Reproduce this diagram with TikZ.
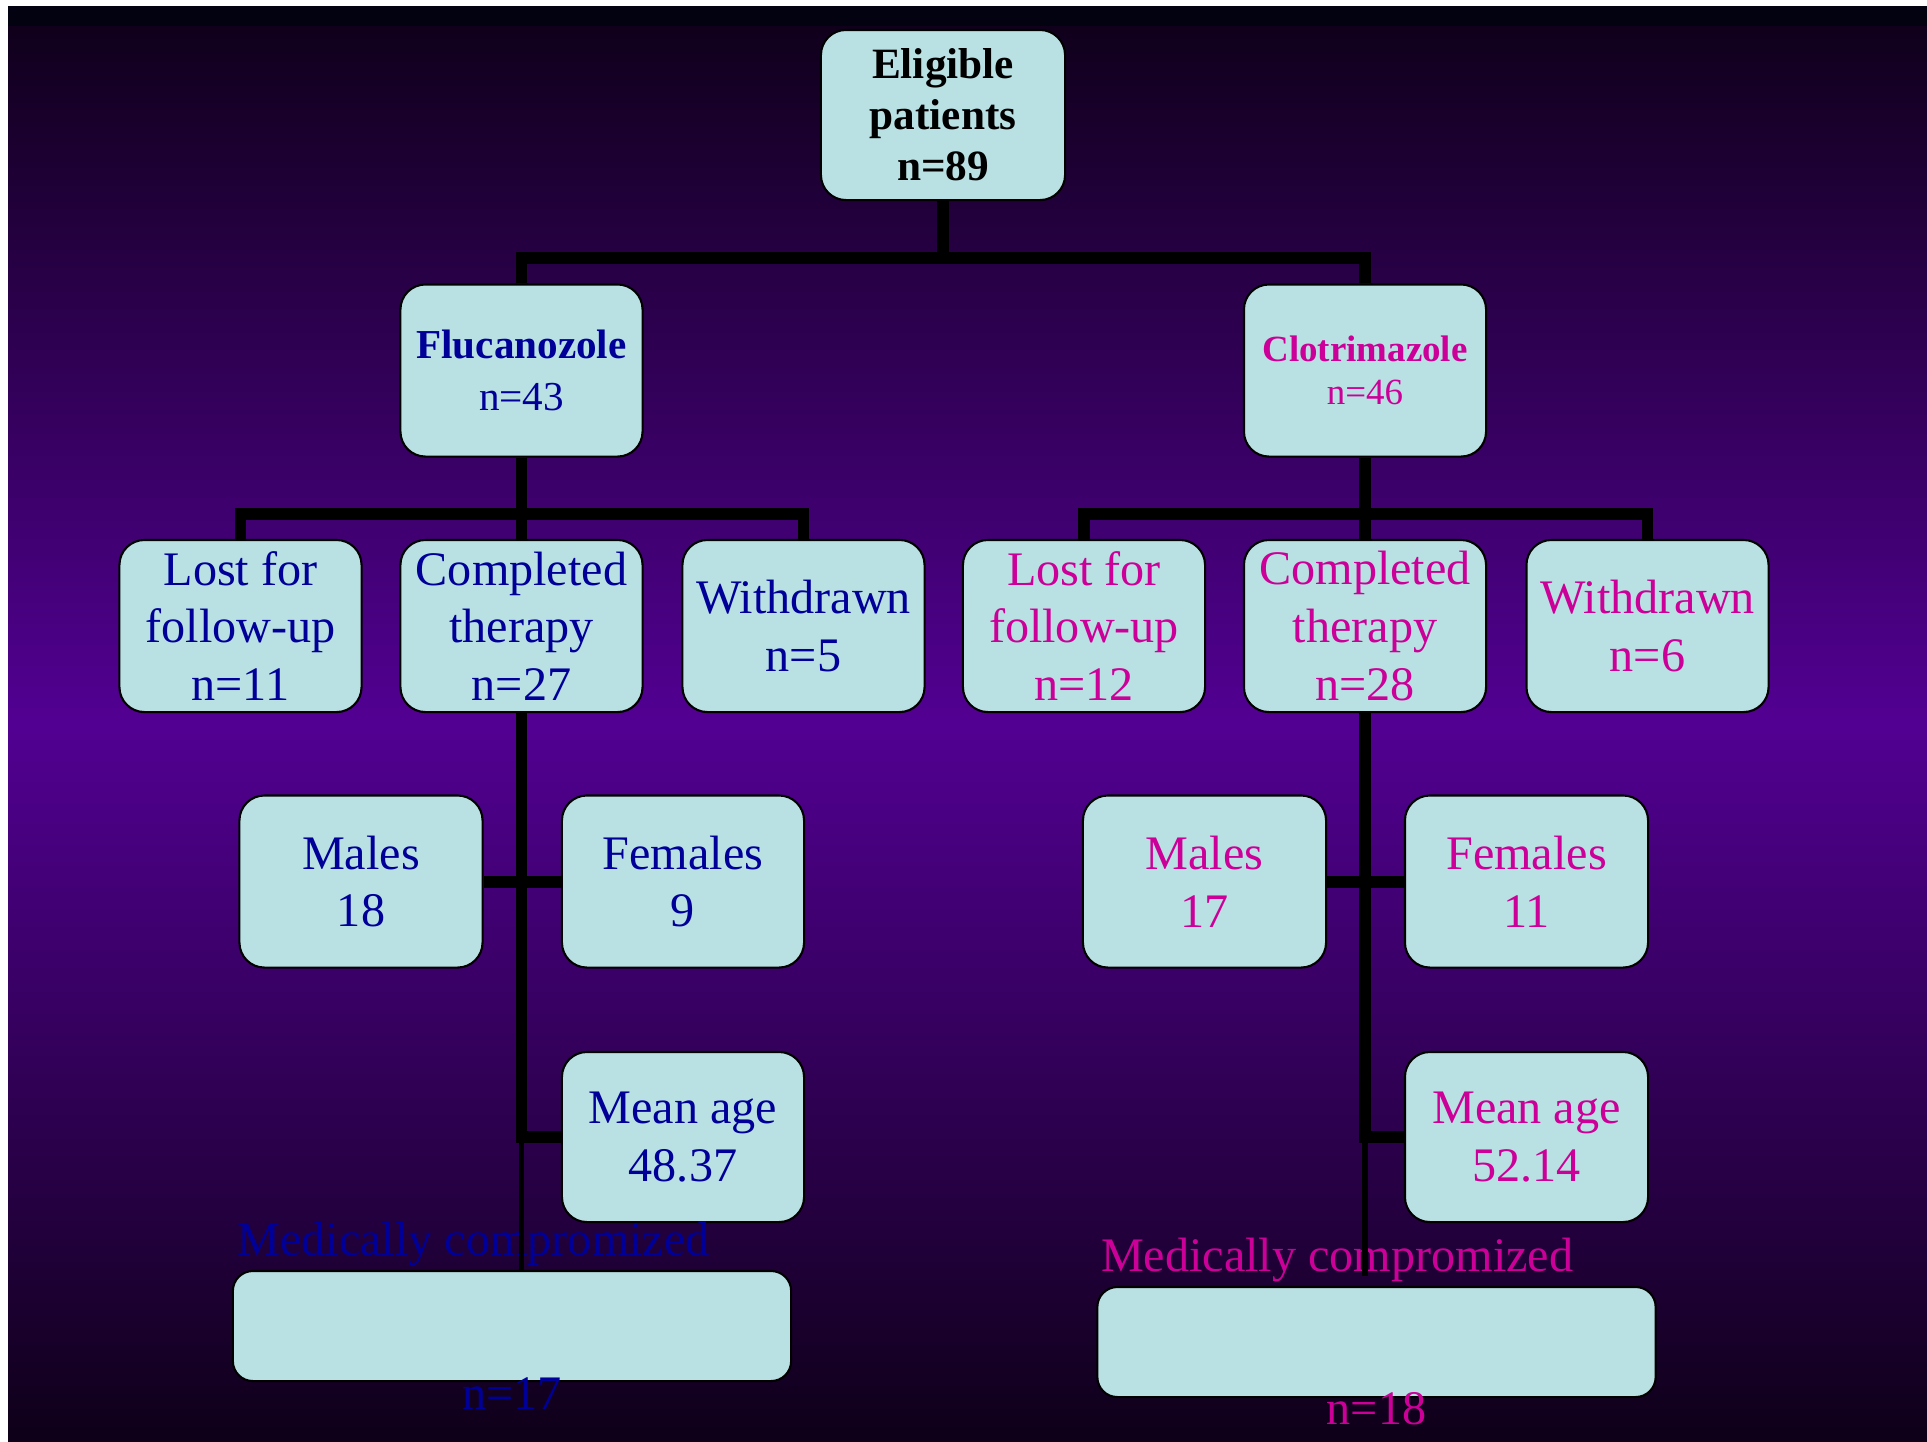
\documentclass[tikz,border=0pt]{standalone}
\usepackage{fontspec}
\setmainfont{Liberation Serif}
\definecolor{boxfill}{RGB}{185,224,227}
\definecolor{flublue}{RGB}{0,0,153}
\definecolor{clomag}{RGB}{204,0,153}
\definecolor{bgpurple}{RGB}{82,0,146}
\definecolor{bgdark}{RGB}{14,0,24}
\definecolor{bgnavy}{RGB}{3,2,16}
\begin{document}
\begin{tikzpicture}[x=0.01cm, y=-0.01cm,
	box/.style={draw=black, line width=0.6pt, fill=boxfill, rounded corners=0.25cm,
		minimum width=2.42cm, minimum height=1.72cm, inner sep=0pt, align=center,
		font=\fontsize{13.7}{16.4}\selectfont},
	flu/.style={text=flublue},
	clo/.style={text=clomag},
	medbox/.style={draw=black, line width=0.6pt, fill=boxfill, rounded corners=0.2cm,
		minimum width=5.58cm, minimum height=1.1cm, inner sep=0pt},
	medtext/.style={inner sep=0pt, font=\fontsize{13.7}{16.4}\selectfont},
	link/.style={line width=3.4pt},
	thinlink/.style={line width=1.7pt}]
	%background
	\useasboundingbox (0,0) rectangle (1927,1441);
	\fill[white] (0,0) rectangle (1927,1441);
	\shade[top color=bgdark, bottom color=bgdark, middle color=bgpurple] (8,6) rectangle (1927,1441);
	\fill[bgnavy] (8,6) rectangle (1927,26);
	
	%eligible
	\node[box, minimum width=2.44cm, minimum height=1.7cm, font=\fontsize{12.3}{14.5}\selectfont\bfseries] (elig) at (943,115) {Eligible\\patients\\n=89};
	
	%arms
	\node[box, flu, font=\fontsize{11.7}{14.8}\selectfont] (fluc) at (521.5,370.5) {\textbf{Flucanozole}\\n=43};
	\node[box, clo, font=\fontsize{10.5}{12.2}\selectfont] (clot) at (1365,370.5) {\textbf{Clotrimazole}\\n=46};
	
	%outcomes
	\node[box, flu] (lostF) at (240.5,626) {Lost for\\follow-up\\n=11};
	\node[box, flu] (compF) at (521.5,626) {Completed\\therapy\\n=27};
	\node[box, flu] (withF) at (803.5,626) {Withdrawn\\n=5};
	\node[box, clo] (lostC) at (1084,626) {Lost for\\follow-up\\n=12};
	\node[box, clo] (compC) at (1365,626) {Completed\\therapy\\n=28};
	\node[box, clo] (withC) at (1647.5,626) {Withdrawn\\n=6};
	
	%completed therapy
	\node[box, flu, minimum width=2.43cm] (malesF) at (361,881.5) {Males\\18};
	\node[box, flu] (femF) at (683,881.5) {Females\\9};
	\node[box, flu, minimum height=1.7cm] (meanF) at (683,1137) {Mean age\\48.37};
	\node[box, clo, minimum width=2.43cm] (malesC) at (1204.5,881.5) {Males\\17};
	\node[box, clo, minimum width=2.43cm] (femC) at (1526.5,881.5) {Females\\11};
	\node[box, clo, minimum width=2.43cm, minimum height=1.7cm] (meanC) at (1526.5,1137) {Mean age\\52.14};
	
	%medically compromized
	\node[medbox] (medF) at (512,1326) {};
	\node[medtext, text=flublue, anchor=base west] (medFtop) at ([xshift=0.05cm, yshift=0.14cm]medF.north west) {Medically compromized};
	\node[medtext, text=flublue, anchor=base] (medFn) at ([yshift=-0.27cm]medF.south) {n=17};
	\node[medbox] (medC) at (1376.5,1342) {};
	\node[medtext, text=clomag, anchor=base west] (medCtop) at ([xshift=0.04cm, yshift=0.14cm]medC.north west) {Medically compromized};
	\node[medtext, text=clomag, anchor=base] (medCn) at ([yshift=-0.26cm]medC.south) {n=18};
	
	%tree
	\draw[link] (elig.south) -- ++(0,57) -| (fluc.north);
	\draw[link] (elig.south) -- ++(0,57) -| (clot.north);
	\foreach \arm/\side in {fluc/F, clot/C}{
		\draw[link] (\arm.south) -- (comp\side.north);
		\draw[link] (\arm.south) -- ++(0,56) -| (lost\side.north);
		\draw[link] (\arm.south) -- ++(0,56) -| (with\side.north);
		\draw[link] (males\side.east) -- (fem\side.west);
		\draw[link] (comp\side.south) |- (mean\side.west);
	}
	\draw[thinlink] (meanF.west -| compF.south) -- (medF.north -| compF.south);
	\draw[thinlink] (meanC.west -| compC.south) -- ++(0,139);
\end{tikzpicture}
\end{document}
